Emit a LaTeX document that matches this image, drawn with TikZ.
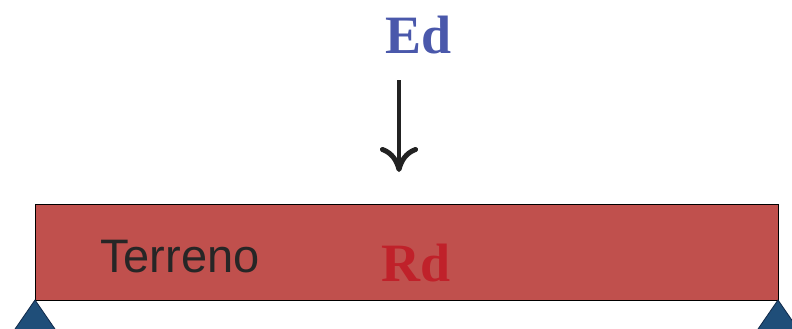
\documentclass[tikz,border=0pt]{standalone}
\usepackage{fontspec}
\setmainfont{Liberation Serif}
\newfontfamily\terrfont{Liberation Sans}
\usetikzlibrary{arrows.meta}
\definecolor{beamred}{HTML}{C0504D}
\definecolor{supblue}{HTML}{1F4E79}
\definecolor{supedge}{HTML}{10294A}
\definecolor{edblue}{HTML}{4A58AB}
\definecolor{rdred}{HTML}{C0212A}
\definecolor{textdark}{HTML}{262626}
\tikzset{
  label big/.style={font=\fontsize{54}{60}\selectfont\bfseries, inner sep=0pt, anchor=base},
  support/.style={fill=supblue, draw=supedge, line width=0.8pt},
}
\begin{document}
\begin{tikzpicture}[x=1pt,y=-1pt]
\useasboundingbox (0,0) rectangle (792,329);
\clip (0,0) rectangle (792,329);
\fill[white] (0,0) rectangle (792,329);
% beam
\node[draw=black, line width=1.2pt, fill=beamred, minimum width=743pt, minimum height=96pt, inner sep=0pt, anchor=north west] (beam) at (35,204) {};
% supports
\coordinate (lA) at (35,300);
\coordinate (rA) at (778,300);
\draw[support] (lA) -- ++(-31,45) -- ++(62,0) -- cycle;
\draw[support] (rA) -- ++(-31,45) -- ++(62,0) -- cycle;
% labels
\node[label big, text=edblue] (ed) at (419,53) {Ed};
\node[label big, text=rdred] (rd) at (416,281) {Rd};
\node[font=\terrfont\fontsize{47}{52}\selectfont, text=textdark, inner sep=0pt, anchor=base west] (terr) at (100,272) {Terreno};
% arrow
\coordinate (atop) at (399,80);
\coordinate (abot) at (399,172);
\draw[line width=4pt, draw=textdark!90!black, -{Computer Modern Rightarrow[length=25pt,width=38pt,line width=5pt]}] (atop) -- (abot);
\end{tikzpicture}
\end{document}
